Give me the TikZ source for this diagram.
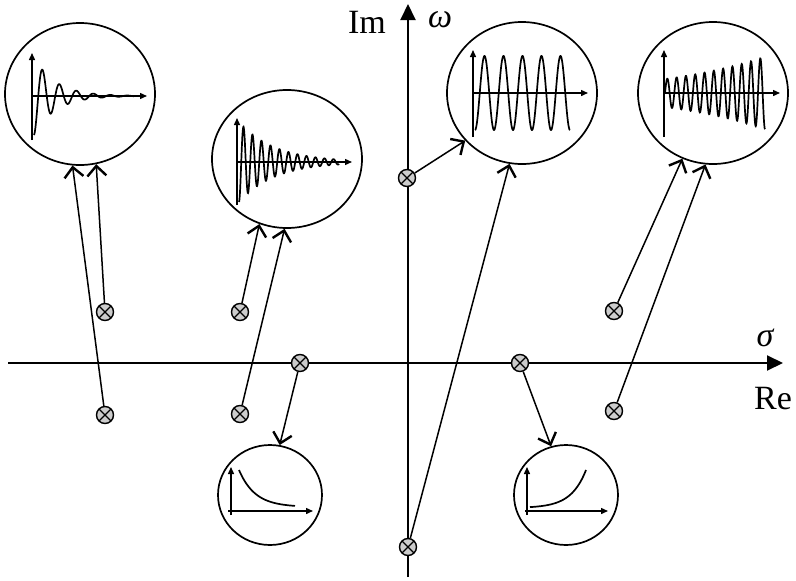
\documentclass[tikz,border=0pt]{standalone}
\usepackage{fontspec}
\setmainfont{Liberation Serif}
\usetikzlibrary{arrows.meta,shapes.geometric}
\begin{document}
\begin{tikzpicture}[x=1pt,y=-1pt,
  axis/.style={line width=2pt, -{Triangle[length=16pt,width=15pt]}},
  inset/.style={draw, ellipse, line width=1.7pt, inner sep=0pt},
  pole/.style={draw, circle, line width=1.4pt, fill=gray!40, minimum size=17pt, inner sep=0pt,
    path picture={\draw[line width=1.4pt] (path picture bounding box.north west)--(path picture bounding box.south east)
      (path picture bounding box.north east)--(path picture bounding box.south west);}},
  link/.style={line width=1.5pt, -{Straight Barb[length=10pt,width=19pt,line width=2.4pt]}},
  small/.style={line width=1.4pt, -{Triangle[length=7pt,width=6pt]}},
  wave/.style={line width=1.7pt},
  lbl/.style={font=\fontsize{34}{40}\selectfont, inner sep=0pt}
]
\useasboundingbox (0,0) rectangle (796,581);

% main axes
\coordinate (xl) at (8,363);
\coordinate (xr) at (783,363);
\coordinate (yb) at (408,577);
\coordinate (yt) at (408,4);
\draw[axis] (xl) -- (xr);
\draw[axis] (yb) -- (yt);
\node[lbl] (im) at (367,22) {Im};
\node[lbl] (om) at (440,20) {\itshape ω};
\node[lbl] (sg) at (765,338) {\itshape σ};
\node[lbl] (re) at (773,399) {Re};

% insets
\node[inset, minimum width=150pt, minimum height=142pt] (c1) at (80,94) {};
\node[inset, minimum width=150pt, minimum height=138pt] (c2) at (287,159) {};
\node[inset, minimum width=150pt, minimum height=142pt] (c3) at (522,93) {};
\node[inset, minimum width=150pt, minimum height=142pt] (c4) at (713,93) {};
\node[inset, minimum width=104pt, minimum height=100pt] (c5) at (270,495) {};
\node[inset, minimum width=104pt, minimum height=100pt] (c6) at (566,495) {};

% inset 1: damped, slow
\coordinate (a1o) at (32,140); \coordinate (a1t) at (32,53);
\coordinate (a1l) at (32,96);  \coordinate (a1r) at (147,96);
\draw[small] (a1o) -- (a1t);
\draw[small] (a1l) -- (a1r);
\draw[wave] plot[domain=0:100, samples=300, smooth] ({34+\x}, {96+39*exp(-0.047*\x)*cos(21.176*\x)});

% inset 2: damped, fast
\coordinate (a2o) at (237,205); \coordinate (a2t) at (237,118);
\coordinate (a2l) at (237,162); \coordinate (a2r) at (352,162);
\draw[small] (a2o) -- (a2t);
\draw[small] (a2l) -- (a2r);
\draw[wave] plot[domain=0:100, samples=400, smooth] ({239+\x}, {162+40*exp(-0.028*\x)*cos(40*\x)});

% inset 3: constant
\coordinate (a3o) at (473,137); \coordinate (a3t) at (473,50);
\coordinate (a3l) at (473,93);  \coordinate (a3r) at (588,93);
\draw[small] (a3o) -- (a3t);
\draw[small] (a3l) -- (a3r);
\draw[wave] plot[domain=0:95, samples=300, smooth] ({475+\x}, {93+37*cos(18.947*\x)});

% inset 4: growing
\coordinate (a4o) at (664,137); \coordinate (a4t) at (664,50);
\coordinate (a4l) at (664,93);  \coordinate (a4r) at (780,93);
\draw[small] (a4o) -- (a4t);
\draw[small] (a4l) -- (a4r);
\draw[wave] plot[domain=0:100, samples=400, smooth] ({665+\x}, {93-14*exp(0.0095*\x)*sin(38.71*\x)});

% inset 5: decay
\coordinate (a5o) at (231,515); \coordinate (a5t) at (231,467);
\coordinate (a5l) at (228,511); \coordinate (a5r) at (313,511);
\draw[small] (a5o) -- (a5t);
\draw[small] (a5l) -- (a5r);
\draw[wave] plot[domain=0:56, samples=100, smooth] ({239+\x}, {507-37*exp(-\x/16)});

% inset 6: growth
\coordinate (a6o) at (527,515); \coordinate (a6t) at (527,467);
\coordinate (a6l) at (525,511); \coordinate (a6r) at (608,511);
\draw[small] (a6o) -- (a6t);
\draw[small] (a6l) -- (a6r);
\draw[wave] plot[domain=0:56, samples=100, smooth] ({530+\x}, {508-38*exp((\x-56)/15)});

% poles
\node[pole] (p1) at (105,312) {};
\node[pole] (p2) at (105,415) {};
\node[pole] (p3) at (240,312) {};
\node[pole] (p4) at (240,414) {};
\node[pole] (p5) at (300,363) {};
\node[pole] (p6) at (520,363) {};
\node[pole] (p7) at (407,178) {};
\node[pole] (p8) at (408,547) {};
\node[pole] (p9) at (614,311) {};
\node[pole] (p10) at (614,411) {};

% connectors
\draw[link] (p1) -- (c1.-77);
\draw[link] (p2) -- (c1.-96);
\draw[link] (p3) -- (c2.-113);
\draw[link] (p4) -- (c2.-92);
\draw[link] (p7) -- (c3.-140);
\draw[link] (p8) -- (c3.-100);
\draw[link] (p9) -- (c4.-115);
\draw[link] (p10) -- (c4.-96);
\draw[link] (p5) -- (c5.79);
\draw[link] (p6) -- (c6.107);
\end{tikzpicture}
\end{document}
